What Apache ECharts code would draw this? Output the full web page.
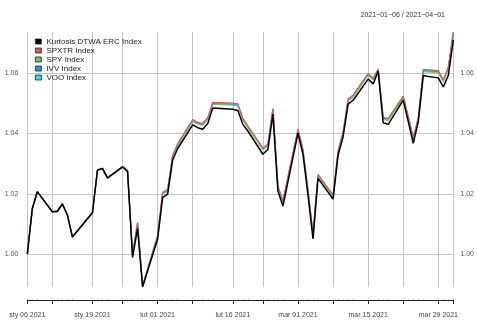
<!DOCTYPE html>
<html>
<head>
<meta charset="utf-8">
<script src="https://cdn.jsdelivr.net/npm/echarts@6/dist/echarts.min.js"></script>
<style>
  html, body { margin: 0; padding: 0; background: #fff; }
  #chart { width: 477px; height: 320px; }
</style>
</head>
<body>
<div id="chart"></div>
<script>
// Trading days, 2021-01-06 .. 2021-04-01
const dates = ['2021-01-06','2021-01-07','2021-01-08','2021-01-11','2021-01-12','2021-01-13','2021-01-14','2021-01-15','2021-01-19','2021-01-20','2021-01-21','2021-01-22','2021-01-25','2021-01-26','2021-01-27','2021-01-28','2021-01-29',
  '2021-02-01','2021-02-02','2021-02-03','2021-02-04','2021-02-05','2021-02-08','2021-02-09','2021-02-10','2021-02-11','2021-02-12','2021-02-16','2021-02-17','2021-02-18','2021-02-19','2021-02-22','2021-02-23','2021-02-24','2021-02-25','2021-02-26',
  '2021-03-01','2021-03-02','2021-03-03','2021-03-04','2021-03-05','2021-03-08','2021-03-09','2021-03-10','2021-03-11','2021-03-12','2021-03-15','2021-03-16','2021-03-17','2021-03-18','2021-03-19','2021-03-22','2021-03-23','2021-03-24','2021-03-25','2021-03-26','2021-03-29','2021-03-30','2021-03-31',
  '2021-04-01'];

// Cumulative growth of 1 unit
const kurtosis = [1.0000,1.0151,1.0207,1.0140,1.0141,1.0166,1.0129,1.0057,1.0137,1.0278,1.0284,1.0252,1.0289,1.0274,0.9989,1.0085,0.9891,
  1.0050,1.0187,1.0199,1.0312,1.0350,1.0428,1.0419,1.0414,1.0433,1.0484,1.0480,1.0476,1.0430,1.0408,1.0331,1.0347,1.0464,1.0208,1.0159,
  1.0401,1.0330,1.0195,1.0050,1.0251,1.0182,1.0328,1.0389,1.0497,1.0510,1.0580,1.0564,1.0606,1.0435,1.0430,1.0510,1.0439,1.0367,1.0439,1.0591,1.0584,1.0554,1.0593,
  1.0710];
const spxtr = [1.0000,1.0151,1.0207,1.0141,1.0144,1.0168,1.0130,1.0058,1.0139,1.0280,1.0284,1.0254,1.0290,1.0277,0.9998,1.0105,0.9896,
  1.0062,1.0205,1.0214,1.0328,1.0366,1.0446,1.0437,1.0433,1.0453,1.0503,1.0500,1.0498,1.0451,1.0425,1.0352,1.0365,1.0483,1.0226,1.0177,
  1.0414,1.0347,1.0212,1.0068,1.0264,1.0196,1.0342,1.0405,1.0514,1.0527,1.0599,1.0584,1.0614,1.0453,1.0450,1.0524,1.0457,1.0387,1.0452,1.0612,1.0608,1.0578,1.0621,
  1.0736];
const spy = [1.0000,1.0150,1.0206,1.0140,1.0142,1.0166,1.0129,1.0056,1.0137,1.0278,1.0283,1.0252,1.0288,1.0274,0.9993,1.0099,0.9893,
  1.0057,1.0199,1.0208,1.0322,1.0360,1.0440,1.0431,1.0427,1.0447,1.0497,1.0494,1.0492,1.0445,1.0419,1.0346,1.0359,1.0477,1.0220,1.0171,
  1.0408,1.0341,1.0206,1.0062,1.0258,1.0190,1.0336,1.0399,1.0508,1.0521,1.0592,1.0577,1.0607,1.0446,1.0443,1.0517,1.0450,1.0380,1.0445,1.0605,1.0601,1.0571,1.0614,
  1.0729];
const ivv = [1.0000,1.0150,1.0206,1.0140,1.0143,1.0167,1.0129,1.0057,1.0138,1.0279,1.0283,1.0253,1.0289,1.0276,0.9996,1.0102,0.9894,
  1.0059,1.0202,1.0211,1.0325,1.0362,1.0442,1.0433,1.0429,1.0449,1.0499,1.0496,1.0494,1.0447,1.0421,1.0348,1.0361,1.0479,1.0222,1.0173,
  1.0410,1.0343,1.0208,1.0064,1.0260,1.0192,1.0338,1.0401,1.0510,1.0523,1.0595,1.0580,1.0610,1.0449,1.0446,1.0520,1.0453,1.0383,1.0448,1.0608,1.0604,1.0574,1.0618,
  1.0732];
const voo = [1.0000,1.0150,1.0206,1.0141,1.0143,1.0167,1.0130,1.0057,1.0138,1.0279,1.0284,1.0253,1.0289,1.0276,0.9996,1.0103,0.9894,
  1.0060,1.0203,1.0212,1.0326,1.0363,1.0443,1.0434,1.0430,1.0450,1.0500,1.0497,1.0495,1.0448,1.0422,1.0349,1.0362,1.0480,1.0223,1.0174,
  1.0411,1.0344,1.0209,1.0065,1.0261,1.0193,1.0339,1.0402,1.0511,1.0524,1.0596,1.0581,1.0611,1.0450,1.0447,1.0521,1.0454,1.0384,1.0449,1.0609,1.0605,1.0575,1.0620,
  1.0734];

const seriesNames = ['Kurtosis DTWA ERC Index', 'SPXTR Index', 'SPY Index', 'IVV Index', 'VOO Index'];
const seriesColors = ['#000000', '#DF536B', '#61D04F', '#2297E6', '#28E2E5'];

// Weekly ticks/grid lines and the labelled subset
const tickDates = ['2021-01-06','2021-01-11','2021-01-19','2021-01-25','2021-02-01','2021-02-08','2021-02-16','2021-02-22','2021-03-01','2021-03-08','2021-03-15','2021-03-22','2021-03-29','2021-04-01'];
const labelDates = ['2021-01-06','2021-01-19','2021-02-01','2021-02-16','2021-03-01','2021-03-15','2021-03-29'];
const yTicks = [1.00, 1.02, 1.04, 1.06];
const monthNames = ['sty','lut','mar','kwi','maj','cze','lip','sie','wrz','paź','lis','gru'];
const titleText = '2021\u221201\u221206 / 2021\u221204\u221201';

const DAY = 86400000;
const t0 = Date.parse(dates[0]);
const dayOf = s => Math.round((Date.parse(s) - t0) / DAY);
const xs = dates.map(dayOf);

function fmtDate(v) {
  const d = new Date(t0 + Math.round(v) * DAY);
  const dd = String(d.getUTCDate()).padStart(2, '0');
  return monthNames[d.getUTCMonth()] + ' ' + dd + ' ' + d.getUTCFullYear();
}

const allVals = [].concat(kurtosis, spxtr, spy, ivv, voo);
const yMin = Math.min.apply(null, allVals);
const yMax = Math.max.apply(null, allVals);

const valueArrays = [kurtosis, spxtr, spy, ivv, voo];
const font = "'Liberation Sans', Arial, sans-serif";

// index trackers first (SPXTR on top of them), portfolio line drawn last
const drawOrder = [4, 3, 2, 1, 0];
const series = drawOrder.map(i => ({
  name: seriesNames[i],
  type: 'line',
  xAxisIndex: 0,
  yAxisIndex: 0,
  data: xs.map((x, k) => [x, valueArrays[i][k]]),
  showSymbol: false,
  symbol: 'none',
  lineStyle: { color: seriesColors[i], width: i === 0 ? 1.5 : 1.2 },
  itemStyle: { color: seriesColors[i] },
  emphasis: { disabled: true }
}));

const chart = echarts.init(document.getElementById('chart'), null, { renderer: 'canvas' });
chart.setOption({
  animation: false,
  backgroundColor: '#ffffff',
  title: {
    text: titleText,
    right: 27,
    top: 7,
    textStyle: { fontFamily: font, fontSize: 7, fontWeight: 'normal', color: '#333' }
  },
  legend: {
    data: seriesNames,
    orient: 'vertical',
    left: 35,
    top: 37,
    icon: 'rect',
    itemWidth: 6,
    itemHeight: 5,
    itemGap: 0,
    itemStyle: { borderColor: '#222', borderWidth: 0.8 },
    textStyle: { fontFamily: font, fontSize: 8, color: '#222', lineHeight: 9, padding: [0, 0, 0, 0] },
    padding: 0
  },
  grid: { left: 27.3, right: 21.3, top: 32, bottom: 33 },
  xAxis: [{
    type: 'value',
    min: 0,
    max: dayOf(dates[dates.length - 1]),
    offset: 13,
    axisLine: { show: true, lineStyle: { color: '#222', width: 1 } },
    axisTick: {
      show: true, length: 4, inside: false,
      customValues: tickDates.map(dayOf),
      lineStyle: { color: '#222', width: 1 }
    },
    axisLabel: {
      customValues: labelDates.map(dayOf),
      formatter: fmtDate,
      margin: 12,
      fontFamily: font, fontSize: 7, color: '#444'
    },
    splitLine: { show: true, lineStyle: { color: '#c4c4c4', width: 1 } }
  }, {
    type: 'value',
    position: 'bottom',
    min: 0,
    max: dayOf(dates[dates.length - 1]),
    offset: 13,
    axisLine: { show: false },
    axisTick: {
      show: true, length: 2, inside: true,
      customValues: xs,
      lineStyle: { color: '#e0e0e0', width: 1 }
    },
    axisLabel: { show: false },
    splitLine: { show: false }
  }],
  yAxis: [{
    type: 'value',
    position: 'left',
    min: yMin,
    max: yMax,
    axisLine: { show: false },
    axisTick: { show: false, customValues: yTicks },
    axisLabel: {
      customValues: yTicks,
      formatter: v => v.toFixed(2),
      margin: 9,
      fontFamily: font, fontSize: 7, color: '#555'
    },
    splitLine: { show: true, lineStyle: { color: '#c4c4c4', width: 1 } }
  }, {
    type: 'value',
    position: 'right',
    min: yMin,
    max: yMax,
    axisLine: { show: false },
    axisTick: { show: false, customValues: yTicks },
    axisLabel: {
      customValues: yTicks,
      formatter: v => v.toFixed(2),
      margin: 7,
      fontFamily: font, fontSize: 7, color: '#555'
    },
    splitLine: { show: false }
  }],
  series: series
});
</script>
</body>
</html>
